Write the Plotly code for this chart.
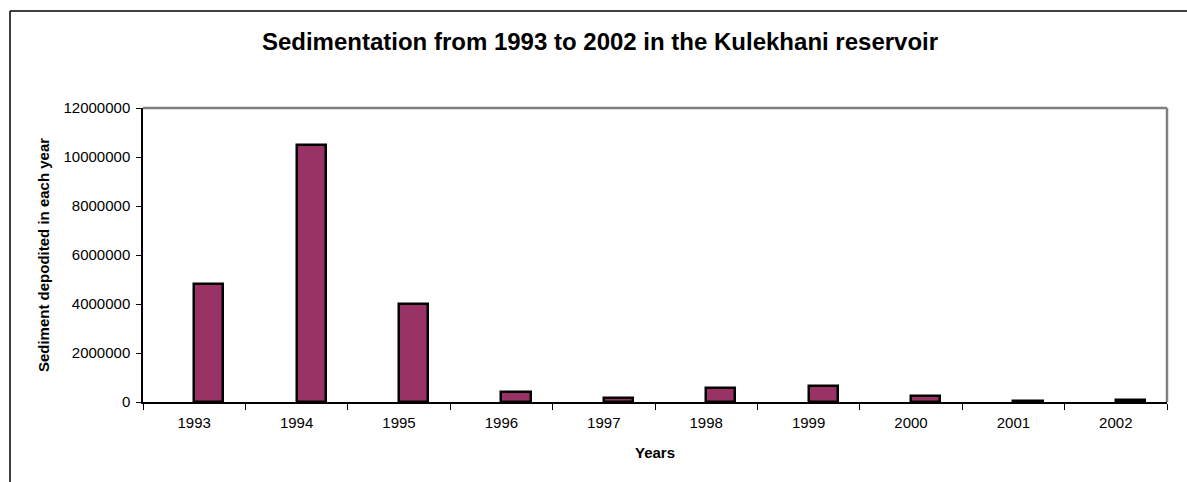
import plotly.graph_objects as go

years = ["1993", "1994", "1995", "1996", "1997", "1998", "1999", "2000", "2001", "2002"]
sediment = [4800000, 10500000, 4000000, 400000, 180000, 570000, 650000, 250000, 30000, 70000]
y_ticks = [0, 2000000, 4000000, 6000000, 8000000, 10000000, 12000000]

FONT = "Liberation Sans, Arial, sans-serif"

fig = go.Figure()
fig.add_trace(go.Bar(
    x=years, y=sediment,
    marker=dict(color="#993366", line=dict(color="black", width=2.5)),
    width=0.285, offset=0,
    showlegend=False,
))

W, H = 1187, 482
L, R, T, B = 143, 20, 108, 80
pw, ph = W - L - R, H - T - B

bx = (10 - L) / pw
by = 1 + (T - 11) / ph

fig.update_layout(
    width=W, height=H,
    margin=dict(l=L, r=R, t=T, b=B),
    paper_bgcolor="white", plot_bgcolor="white",
    font=dict(family=FONT, color="black", size=15),
    title=dict(text="<b>Sedimentation from 1993 to 2002 in the Kulekhani reservoir</b>",
               font=dict(size=24, family=FONT, color="black"),
               x=600 / W, xanchor="center", xref="container",
               y=1 - 42 / H, yanchor="middle"),
    bargap=0,
    shapes=[
        dict(type="line", xref="paper", yref="paper", x0=0, x1=1, y0=1, y1=1,
             line=dict(color="#808080", width=2.5)),
        dict(type="line", xref="paper", yref="paper", x0=1, x1=1, y0=0, y1=1,
             line=dict(color="#808080", width=2.5)),
        dict(type="line", xref="paper", yref="paper", x0=bx, x1=bx, y0=-1, y1=by,
             line=dict(color="black", width=1.5)),
        dict(type="line", xref="paper", yref="paper", x0=bx, x1=1.5, y0=by, y1=by,
             line=dict(color="black", width=1.5)),
    ],
)

fig.update_xaxes(
    type="category",
    tickson="boundaries", ticks="outside", ticklen=6, tickcolor="black", tickwidth=1,
    showline=True, linecolor="black", linewidth=1.5,
    showgrid=False, zeroline=False,
    tickfont=dict(size=15, family=FONT, color="black"),
    ticklabelstandoff=6,
    title=dict(text="<b>Years</b>", font=dict(size=15, family=FONT, color="black"), standoff=18),
)
fig.update_yaxes(
    range=[0, 12000000], tickvals=y_ticks, tickformat="d",
    ticks="outside", ticklen=5, tickcolor="black", tickwidth=1,
    showline=True, linecolor="black", linewidth=1.5,
    showgrid=False, zeroline=False,
    tickfont=dict(size=15, family=FONT, color="black"),
    ticklabelstandoff=3,
    title=dict(text="<b>Sediment depodited in each year</b>", font=dict(size=15, family=FONT, color="black"), standoff=10),
)

fig.write_html("out.html")
